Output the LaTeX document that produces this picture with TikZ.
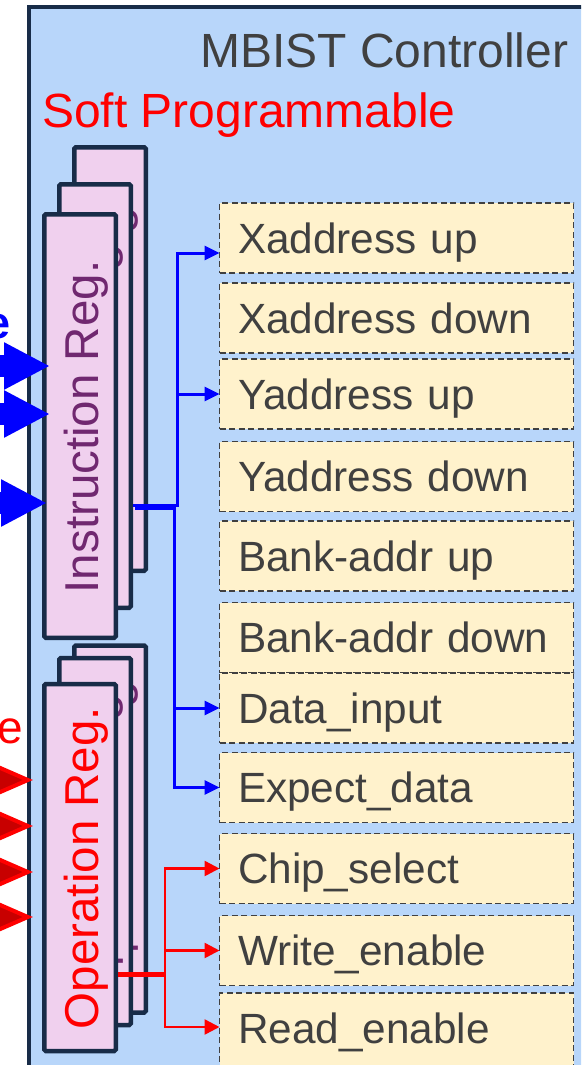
\documentclass[tikz,border=0pt]{standalone}
\usepackage{fontspec}
\setmainfont{Liberation Sans}
\usetikzlibrary{arrows.meta,calc}
\definecolor{ctrlbg}{RGB}{184,214,250}
\definecolor{navy}{RGB}{24,44,72}
\definecolor{regpink}{RGB}{240,208,238}
\definecolor{regpurple}{RGB}{112,40,112}
\definecolor{cream}{RGB}{255,242,204}
\definecolor{txtgray}{RGB}{64,64,64}
\definecolor{darkred}{RGB}{200,0,0}
\definecolor{pblue}{RGB}{0,0,255}
\definecolor{pred}{RGB}{255,0,0}
\begin{document}
\begin{tikzpicture}[x=1pt,y=1pt,
  frame/.style={draw=navy, fill=ctrlbg, line width=4pt, inner sep=0pt, outer sep=0pt, anchor=north west, minimum width=620pt, minimum height=1120pt},
  regbox/.style={draw=navy, fill=regpink, line width=4.5pt, rounded corners=1.5pt, inner sep=0pt, minimum width=71.5pt},
  regtxt/.style={rotate=90, anchor=base, inner sep=0pt, font=\fontsize{47.5}{50}\selectfont},
  sig/.style={draw=txtgray, dash pattern=on 6pt off 3.5pt, line width=1.8pt, fill=cream, text=txtgray, anchor=west, outer sep=0pt, minimum height=70pt, text width=317pt, inner xsep=18.5pt, inner ysep=0pt, align=left, text height=30pt, text depth=0pt, font=\fontsize{42.3}{44}\selectfont},
  bwire/.style={pblue, line width=3pt},
  rwire/.style={pred, line width=2.5pt},
  btip/.style={-{Triangle[length=15pt,width=14pt]}},
  rtip/.style={-{Triangle[length=15pt,width=15pt]}},
  bigb/.style={pblue, line width=22pt, -{Triangle[length=46pt,width=44pt]}},
  bigr/.style={pred, line width=4pt, -{Triangle[length=45pt,width=38pt,fill=darkred]}},
  titletxt/.style={anchor=base west, inner sep=0pt, font=\fontsize{48}{50}\selectfont},
]
\useasboundingbox (0,0) rectangle (581,-1065);
\clip (0,0) rectangle (581,-1065);

% controller frame
\node[frame] (ctrl) at (29,-7) {};
\node[titletxt, text=txtgray] (title) at (200,-67) {MBIST Controller};
\node[titletxt, text=pred] (soft) at (42,-127) {Soft Programmable};

% instruction registers (back to front)
\node[regbox, minimum height=423.5pt] (ir3) at (110,-359) {};
\node[regtxt, text=regpurple] (ir3t) at (128,-360) {Instruction Reg.};
\node[regbox, minimum height=423.5pt] (ir2) at (95,-396) {};
\node[regtxt, text=regpurple] (ir2t) at (113,-397) {Instruction Reg.};
\node[regbox, minimum height=423.5pt] (ir1) at (80,-426) {};
\node[regtxt, text=regpurple] (ir1t) at (98,-427) {Instruction Reg.};

% operation registers (back to front)
\node[regbox, minimum height=367pt] (or3) at (110,-829) {};
\node[regtxt, text=regpurple] (or3t) at (128,-829) {Operation Reg.};
\node[regbox, minimum height=367pt] (or2) at (95,-841.5) {};
\node[regtxt, text=regpurple] (or2t) at (113,-842) {Operation Reg.};
\node[regbox, minimum height=367pt] (or1) at (80,-867.5) {};
\node[regtxt, text=pred] (or1t) at (98,-868) {Operation Reg.};

% signal boxes
\node[sig] (b1) at (219.5,-238) {Xaddress up};
\node[sig] (b2) at (219.5,-318) {Xaddress down};
\node[sig] (b3) at (219.5,-394) {Yaddress up};
\node[sig] (b4) at (219.5,-476.5) {Yaddress down};
\node[sig] (b5) at (219.5,-556) {Bank-addr up};
\node[sig] (b6) at (219.5,-637.5) {Bank-addr down};
\node[sig] (b7) at (219.5,-708) {Data\_input};
\node[sig] (b8) at (219.5,-787.5) {Expect\_data};
\node[sig] (b9) at (219.5,-868.5) {Chip\_select};
\node[sig] (b10) at (219.5,-950.5) {Write\_enable};
\node[sig, minimum height=84pt, text depth=14pt] (b11) at (219.5,-1035) {Read\_enable};

% blue wiring from instruction register
\coordinate (ju) at (177,-505);
\coordinate (jd) at (174,-508);
\draw[bwire, btip] ([yshift=-109pt]ir2.east) -- (ju) |- ([yshift=-15pt]b1.west);
\draw[bwire, btip] (ju) |- (b3.west);
\draw[bwire, btip] ([yshift=-112pt,xshift=2pt]ir2.east) -- (jd) |- (b7.west);
\draw[bwire, btip] (jd) |- (b8.west);

% red wiring from operation register
\coordinate (jr) at (165,-974);
\draw[pred, line width=5pt] ([yshift=-106.5pt]or1.east) -- (jr);
\draw[rwire, rtip] (jr) |- (b9.west);
\draw[rwire, rtip] (jr) |- (b10.west);
\draw[rwire, rtip] (jr) |- ([yshift=8pt]b11.west);

% incoming arrows from the left
\coordinate (bs1) at (-60,-366); \coordinate (bt1) at (50,-366);
\coordinate (bs2) at (-60,-414); \coordinate (bt2) at (50,-414);
\coordinate (bs3) at (-60,-503); \coordinate (bt3) at (47,-503);
\draw[bigb] (bs1) -- (bt1);
\draw[bigb] (bs2) -- (bt2);
\draw[bigb] (bs3) -- (bt3);
\coordinate (rs1) at (-60,-780); \coordinate (rt1) at (33,-780);
\coordinate (rs2) at (-60,-826); \coordinate (rt2) at (33,-826);
\coordinate (rs3) at (-60,-872); \coordinate (rt3) at (33,-872);
\coordinate (rs4) at (-60,-917); \coordinate (rt4) at (33,-917);
\draw[bigr] (rs1) -- (rt1);
\draw[bigr] (rs2) -- (rt2);
\draw[bigr] (rs3) -- (rt3);
\draw[bigr] (rs4) -- (rt4);

% cut-off labels at the left edge
\node[anchor=base east, inner sep=0pt, text=pblue, font=\fontsize{45}{48}\selectfont\bfseries] (ble) at (11,-338) {e};
\node[anchor=base east, inner sep=0pt, text=pred, font=\fontsize{46}{48}\selectfont] (rle) at (23,-743) {e};
\end{tikzpicture}
\end{document}
